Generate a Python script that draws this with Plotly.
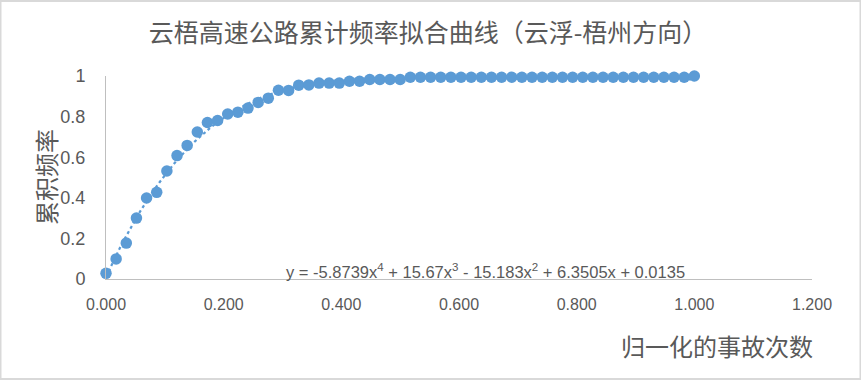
import numpy as np
import plotly.graph_objects as go

# ---- data ----
n_points = 59
x_norm = [i / 58 for i in range(n_points)]
cum_freq = [
    0.028, 0.099, 0.177, 0.300, 0.399, 0.427, 0.532, 0.608, 0.658, 0.724,
    0.771, 0.781, 0.813, 0.822, 0.842, 0.870, 0.891, 0.930, 0.929, 0.955,
    0.956, 0.965, 0.965, 0.965, 0.974, 0.974, 0.983, 0.983, 0.983, 0.983,
    0.994, 0.994, 0.994, 0.994, 0.994, 0.994, 0.994, 0.994, 0.994, 0.994,
    0.994, 0.994, 0.994, 0.994, 0.994, 0.994, 0.994, 0.994, 0.994, 0.994,
    0.994, 0.994, 0.994, 0.994, 0.994, 0.994, 0.994, 0.994, 1.000,
]
x_ticks = [0.0, 0.2, 0.4, 0.6, 0.8, 1.0, 1.2]
y_ticks = [0, 0.2, 0.4, 0.6, 0.8, 1]
y_tick_text = ["0", "0.2", "0.4", "0.6", "0.8", "1"]
title_text = "云梧高速公路累计频率拟合曲线（云浮-梧州方向）"
x_title = "归一化的事故次数"
y_title = "累积频率"
equation_text = ("y = -5.8739x<sup>4</sup> + 15.67x<sup>3</sup> - 15.183x<sup>2</sup>"
                 " + 6.3505x + 0.0135")

# polynomial trendline (degree 4) fitted to the data
coef = np.polyfit(x_norm, cum_freq, 4)
xt = np.linspace(0, 1, 200)
yt = np.polyval(coef, xt)

W, H = 861, 380
L, R, T, B = 106, 49, 76, 101
pw, ph = W - L - R, H - T - B


def px(x):
    return (x - L) / pw


def py(y):
    return (H - B - y) / ph


blue = "#5B9BD5"
gray_txt = "#595959"
font_lat = "Liberation Sans, Noto Sans CJK SC, sans-serif"
font_cjk = "Noto Sans CJK SC, sans-serif"

fig = go.Figure()
fig.add_trace(go.Scatter(
    x=xt, y=yt, mode="lines",
    line=dict(color=blue, width=2.2, dash="dot"),
    hoverinfo="skip", showlegend=False,
))
fig.add_trace(go.Scatter(
    x=x_norm, y=cum_freq, mode="markers",
    marker=dict(color=blue, size=11.5, line=dict(width=0)),
    showlegend=False, cliponaxis=False,
))

fig.update_layout(
    width=W, height=H,
    margin=dict(l=L, r=R, t=T, b=B),
    paper_bgcolor="white", plot_bgcolor="white",
    title=dict(text=title_text, x=(428 - L) / pw, xref="paper", xanchor="center",
               y=1 - 33 / H, yref="container", yanchor="middle",
               font=dict(family=font_cjk, size=25, color=gray_txt)),
    xaxis=dict(range=[0, 1.2], tickvals=x_ticks, tickformat=".3f",
               showgrid=False, zeroline=False, showline=True,
               linecolor="#BFBFBF", linewidth=1, ticks="",
               ticklabelstandoff=11,
               tickfont=dict(family=font_lat, size=16, color=gray_txt)),
    yaxis=dict(range=[0, 1], tickvals=y_ticks, ticktext=y_tick_text,
               showgrid=False, zeroline=False, showline=True,
               linecolor="#BFBFBF", linewidth=1, ticks="",
               ticklabelstandoff=16,
               tickfont=dict(family=font_lat, size=18, color=gray_txt)),
    shapes=[dict(type="rect", xref="paper", yref="paper",
                 x0=px(0.5), x1=px(W - 0.5), y0=py(H - 1), y1=py(1),
                 line=dict(color="#D9D9D9", width=2), layer="below")],
    annotations=[
        dict(text=equation_text, xref="paper", yref="paper",
             x=px(486), y=py(271),
             xanchor="center", yanchor="middle", showarrow=False,
             font=dict(family=font_lat, size=16.5, color=gray_txt)),
        dict(text=x_title, xref="paper", yref="paper",
             x=px(815), y=py(345),
             xanchor="right", yanchor="middle", showarrow=False,
             font=dict(family=font_cjk, size=24, color=gray_txt)),
        dict(text=y_title, xref="paper", yref="paper",
             x=px(45), y=py(177),
             xanchor="center", yanchor="middle", showarrow=False, textangle=-90,
             font=dict(family=font_cjk, size=24, color=gray_txt)),
    ],
)

fig.write_html("out.html", config={"displayModeBar": False},
               post_script="document.body.style.margin='0';")
